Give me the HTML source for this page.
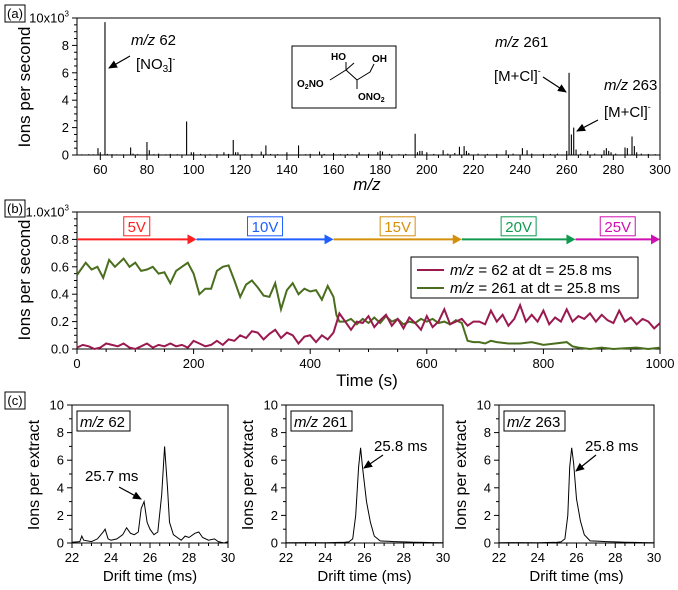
<!DOCTYPE html>
<html><head><meta charset="utf-8"><style>
html,body{margin:0;padding:0;background:#fff;}
svg{display:block;font-family:"Liberation Sans",Arial,sans-serif;}
</style></head><body>
<svg id="fig" width="678" height="590" viewBox="0 0 678 590" xmlns="http://www.w3.org/2000/svg"></svg>
<script>
// ---------- Panel (a) data ----------
const specMz = [52,55,57,59,60,62,63,65,67,70,73,74,76,80,81,83,85,88,90,93,97,99,100,103,107,110,113,115,117,118,119,122,125,129,131,133,136,140,145,148,150,154,156,160,163,166,168,171,175,179,180,181,184,188,191,195,196,197,198,200,203,207,209,212,214,216,217,218,222,226,230,234,237,241,243,245,250,253,256,260,261,262,263,264,266,269,272,276,277,278,279,281,285,286,288,289,290,292,295,298];
const specVal = [0.05,0.06,0.05,0.5,0.2,9.7,0.08,0.06,0.05,0.05,0.55,0.1,0.06,0.95,0.35,0.06,0.1,0.05,0.08,0.06,2.45,0.2,0.2,0.08,0.06,0.06,0.2,0.08,1.1,0.2,0.2,0.06,0.08,0.25,0.7,0.08,0.06,0.2,0.7,0.06,0.08,0.25,0.08,0.15,0.06,0.08,0.06,0.2,0.08,0.2,0.3,0.25,0.08,0.06,0.08,1.55,0.2,0.3,0.3,0.2,0.08,0.35,0.1,0.15,0.6,0.65,0.3,0.15,0.1,0.08,0.08,0.35,0.1,0.5,0.35,0.1,0.08,0.08,0.1,0.3,6.0,1.5,2.0,0.4,0.1,0.3,0.1,0.35,0.5,0.3,0.2,0.1,0.55,0.5,1.35,0.65,0.2,0.1,0.08,0.06];
const aXTicks = [60,80,100,120,140,160,180,200,220,240,260,280,300];
const aYTicks = [0,2,4,6,8,10];

// ---------- Panel (b) data ----------
const tGreen = [0,10,15,25,35,45,55,65,80,90,100,110,120,130,140,150,160,170,180,190,200,210,220,230,240,250,260,270,280,290,300,310,320,330,340,350,360,370,380,390,400,410,420,430,440,445,450,460,470,480,490,500,510,520,530,540,550,560,570,580,590,600,610,620,630,640,650,660,670,680,690,700,710,720,740,760,780,800,820,840,850,860,880,900,920,940,960,980,1000];
const vGreen = [0.54,0.6,0.63,0.58,0.6,0.52,0.65,0.6,0.66,0.6,0.63,0.57,0.58,0.6,0.55,0.56,0.48,0.57,0.6,0.63,0.55,0.4,0.44,0.44,0.57,0.6,0.61,0.5,0.38,0.47,0.5,0.45,0.39,0.38,0.48,0.29,0.43,0.48,0.4,0.44,0.42,0.43,0.36,0.46,0.38,0.25,0.2,0.2,0.22,0.18,0.22,0.19,0.23,0.19,0.24,0.2,0.22,0.18,0.2,0.19,0.22,0.2,0.22,0.19,0.2,0.18,0.21,0.19,0.06,0.05,0.05,0.04,0.06,0.05,0.04,0.04,0.05,0.03,0.04,0.05,0.02,0.01,0.0,0.01,0.0,0.005,0.01,0.0,0.01];
const tRed = [0,10,20,30,40,50,60,70,80,90,100,110,120,130,140,150,160,170,180,190,200,210,220,230,240,250,260,270,280,290,300,310,320,330,340,350,360,370,380,390,400,410,420,430,440,450,460,470,480,490,500,510,520,530,540,550,560,570,580,590,600,610,620,630,640,650,660,670,680,690,700,710,720,730,740,750,760,770,780,790,800,810,820,830,840,850,860,870,880,890,900,910,920,930,940,950,960,970,980,990,1000];
const vRed = [0.01,0.03,0.02,0.0,0.01,0.04,0.03,0.02,0.04,0.01,0.0,0.02,0.04,0.01,0.03,0.02,0.04,0.02,0.03,0.01,0.06,0.04,0.02,0.03,0.06,0.03,0.07,0.06,0.1,0.08,0.13,0.12,0.07,0.11,0.14,0.08,0.12,0.1,0.04,0.09,0.1,0.05,0.1,0.07,0.12,0.26,0.2,0.14,0.2,0.19,0.24,0.16,0.21,0.25,0.17,0.22,0.15,0.23,0.19,0.14,0.24,0.16,0.2,0.29,0.18,0.2,0.22,0.17,0.2,0.2,0.18,0.28,0.2,0.25,0.17,0.22,0.32,0.2,0.25,0.2,0.28,0.18,0.23,0.2,0.29,0.2,0.24,0.22,0.26,0.2,0.25,0.21,0.19,0.28,0.2,0.23,0.18,0.22,0.2,0.15,0.19];
const bXTicks = [0,200,400,600,800,1000];
const bYTicks = [0,0.2,0.4,0.6,0.8,1.0];
const voltLabels = ["5V","10V","15V","20V","25V"];
const voltStart = [0,205,440,660,855];
const voltEnd = [205,440,660,855,1000];
const voltColors = ["#ff2020","#1f5fff","#d4900a","#109a50","#d010b0"];

// ---------- Panel (c) data ----------
const dt62 = [22,22.4,22.5,22.6,23,23.3,23.6,23.7,23.85,24,24.3,24.6,24.8,25,25.2,25.4,25.55,25.7,25.85,26,26.2,26.4,26.6,26.75,26.9,27,27.2,27.4,27.6,27.8,28,28.3,28.5,28.7,29,29.3,29.5,29.8,30];
const v62 = [0.05,0.1,0.5,0.2,0.1,0.3,0.8,1.0,0.3,0.2,0.3,0.6,1.1,0.7,0.6,0.8,2.5,3.0,1.5,1.0,0.6,0.8,3.5,7.0,4.0,1.5,0.6,0.4,0.2,0.5,0.4,0.7,0.8,0.4,0.2,0.3,0.1,0.0,0.1];
const dt261 = [22,23,24,25,25.2,25.4,25.55,25.7,25.8,25.9,26.1,26.3,26.5,26.8,27.2,27.5,28,28.5,29,29.5,30];
const v261 = [0.02,0.03,0.02,0.05,0.08,0.3,2.0,5.5,6.9,5.5,3.0,1.5,0.5,0.15,0.12,0.1,0.08,0.06,0.04,0.03,0.02];
const dt263 = [22,23,24,25,25.2,25.4,25.55,25.65,25.75,25.85,26.0,26.2,26.4,26.7,27.2,27.5,28,28.5,29,29.5,30];
const v263 = [0.02,0.03,0.02,0.05,0.08,0.3,2.0,5.5,6.9,5.8,3.2,1.6,0.6,0.15,0.12,0.1,0.08,0.06,0.04,0.03,0.02];
const cXTicks = [22,24,26,28,30];
const cYTicks = [0,2,4,6,8,10];

const NS = "http://www.w3.org/2000/svg";
const svg = document.getElementById("fig");
function mk(tag, attrs, parent){ const e=document.createElementNS(NS,tag); for(const k in attrs) e.setAttribute(k,attrs[k]); (parent||svg).appendChild(e); return e; }
function lin(d0,d1,r0,r1){ return v => r0 + (v-d0)/(d1-d0)*(r1-r0); }
function txt(s,x,y,size,anchor,parent){ const t=mk("text",{x:x,y:y,"font-size":size,"text-anchor":anchor||"middle",fill:"#000"},parent); t.innerHTML=s; return t; }

const defs = mk("defs",{});
const mkr = mk("marker",{id:"ah",markerWidth:9,markerHeight:8,refX:8,refY:4,orient:"auto",markerUnits:"userSpaceOnUse"},defs);
mk("path",{d:"M0,0 L9,4 L0,8 Z",fill:"#000"},mkr);

function panelLabel(s,x,y){ const g=mk("g",{}); 
  
  mk("rect",{x:x,y:y,width:20,height:17,fill:"none",stroke:"#000","stroke-width":1},g); txt("("+s+")",x+10,y+13,13,"middle",g); }

function axes(name,L,R,T,B,sx,sy,xt,yt,xminor,yminor,xfmt,yfmt,fs){
  const g=mk("g",{});
  
  
  mk("rect",{x:L,y:T,width:R-L,height:B-T,fill:"none",stroke:"#000","stroke-width":1},g);
  xt.forEach((v,i)=>{ const x=sx(v); mk("line",{x1:x,x2:x,y1:B,y2:B+5,stroke:"#000"},g); const t=txt(xfmt(v),x,B+19,fs,"middle",g);
    
    
    if(i<xt.length-1){ for(let k=1;k<xminor;k++){ const xm=sx(v+(xt[i+1]-v)*k/xminor); mk("line",{x1:xm,x2:xm,y1:B,y2:B+3,stroke:"#000"},g);} } });
  yt.forEach((v,i)=>{ const y=sy(v); mk("line",{x1:L-5,x2:L,y1:y,y2:y,stroke:"#000"},g); const t=txt(yfmt(v),L-8,y+4.5,fs,"end",g);
    
    
    if(i<yt.length-1){ for(let k=1;k<yminor;k++){ const ym=sy(v+(yt[i+1]-v)*k/yminor); mk("line",{x1:L-3,x2:L,y1:ym,y2:ym,stroke:"#000"},g);} } });
  return g;
}
function vtitle(s,x,y,size){ const t=mk("text",{x:x,y:y,"font-size":size,"text-anchor":"middle",transform:"rotate(-90 "+x+" "+y+")"}); t.textContent=s; return t; }
function arrow(x1,y1,x2,y2){ const l=mk("line",{x1:x1,y1:y1,x2:x2,y2:y2,stroke:"#000","stroke-width":1.2,"marker-end":"url(#ah)"});
  
   return l; }

// ===== Panel (a) =====
panelLabel("a",5,5);
const aL=77,aR=660,aT=18,aB=155;
const ax=lin(50,300,aL,aR), ay=lin(0,10,aB,aT);
axes("spectrum",aL,aR,aT,aB,ax,ay,aXTicks,aYTicks,4,4,v=>String(v),v=>v===10?"10x10<tspan font-size='8' dy='-6'>3</tspan>":String(v),13);
specMz.forEach((m,i)=>{ const l=mk("line",{x1:ax(m),x2:ax(m),y1:aB,y2:ay(specVal[i]),stroke:"#000","stroke-width":1.1});
  
   });
let t=vtitle("Ions per second",30,87,17);  
t=txt("<tspan font-style='italic'>m/z</tspan>",367,190,17);  
t=txt("<tspan font-style='italic'>m/z</tspan> 62",131,45,15,"start"); 
t=txt("[NO<tspan font-size='10' dy='3'>3</tspan><tspan dy='-3'>]</tspan><tspan font-size='9' dy='-7'>-</tspan>",136,69,15,"start"); 
arrow(130,56,109,68);
t=txt("<tspan font-style='italic'>m/z</tspan> 261",495,47,15,"start"); 
t=txt("[M+Cl]<tspan font-size='9' dy='-7'>-</tspan>",494,81,15,"start"); 
arrow(543,77,566,92);
t=txt("<tspan font-style='italic'>m/z</tspan> 263",604,90,15,"start"); 
t=txt("[M+Cl]<tspan font-size='9' dy='-7'>-</tspan>",604,117,15,"start"); 
arrow(598,120,577,131);
const sg=mk("g",{});  
mk("rect",{x:292,y:46,width:104,height:62,fill:"#fff",stroke:"#000"},sg);
mk("polyline",{points:"330,80 346,70 357,80 357,89",fill:"none",stroke:"#000"},sg);
mk("line",{x1:346,y1:70,x2:346,y2:62,stroke:"#000"},sg);
mk("line",{x1:346,y1:70,x2:354,y2:63,stroke:"#000"},sg);
mk("polyline",{points:"357,80 370,72 374,64",fill:"none",stroke:"#000"},sg);
txt("O<tspan font-size='7' dy='2'>2</tspan><tspan dy='-2'>NO</tspan>",297,99/1.14,10,"start",sg).setAttribute("font-weight","bold");
txt("HO",331,60,10,"start",sg).setAttribute("font-weight","bold");
txt("OH",372,62,10,"start",sg).setAttribute("font-weight","bold");
txt("ONO<tspan font-size='7' dy='2'>2</tspan>",358,100,10,"start",sg).setAttribute("font-weight","bold");

// ===== Panel (b) =====
panelLabel("b",5,200);
const bL=77,bR=660,bT=212,bB=349;
const bx=lin(0,1000,bL,bR), by=lin(0,1,bB,bT);
axes("timeseries",bL,bR,bT,bB,bx,by,bXTicks,bYTicks,4,4,v=>String(v),v=>v===1?"1.0x10<tspan font-size='8' dy='-6'>3</tspan>":v.toFixed(1),13);
t=vtitle("Ions per second",30,280,17);  
t=txt("Time (s)",367,386,17);  
voltLabels.forEach((s,i)=>{ const g=mk("g",{});
  
  
  const x1=bx(voltStart[i]), x2=bx(voltEnd[i]), y=by(0.8), c=voltColors[i];
  mk("line",{x1:x1,x2:x2-8,y1:y,y2:y,stroke:c,"stroke-width":2},g);
  mk("path",{d:`M${x2-9},${y-5} L${x2},${y} L${x2-9},${y+5} Z`,fill:c},g);
  const cx=(x1+x2)/2, w=s.length*9+8;
  mk("rect",{x:cx-w/2,y:by(0.965),width:w,height:19,fill:"#fff",stroke:c},g);
  const tt=txt(s,cx,by(0.965)+15,15,"middle",g); tt.setAttribute("fill",c); });
function pathFrom(xs,ys,sx,sy){ return xs.map((v,i)=>(i?"L":"M")+sx(v).toFixed(1)+","+sy(ys[i]).toFixed(1)).join(" "); }
let p=mk("path",{d:pathFrom(tGreen,vGreen,bx,by),fill:"none",stroke:"#4a6e1e","stroke-width":2});
 
p=mk("path",{d:pathFrom(tRed,vRed,bx,by),fill:"none",stroke:"#9a1a50","stroke-width":2});
 
const lg=mk("g",{});  
mk("rect",{x:411,y:257,width:227,height:41,fill:"#fff",stroke:"#000"},lg);
mk("line",{x1:417,x2:444,y1:270,y2:270,stroke:"#9a1a50","stroke-width":2},lg);
txt("<tspan font-style='italic'>m/z</tspan> = 62 at dt = 25.8 ms",450,275,15,"start",lg);
mk("line",{x1:417,x2:444,y1:288,y2:288,stroke:"#4a6e1e","stroke-width":2},lg);
txt("<tspan font-style='italic'>m/z</tspan> = 261 at dt = 25.8 ms",450,293,15,"start",lg);

// ===== Panel (c) =====
panelLabel("c",5,392);
const cT=405,cB=543;
const subs=[{L:72,R:228,xs:dt62,ys:v62,lab:"62",ann:"25.7 ms",tx:85,ty:481,a:[119,487,141,499]},
            {L:286,R:443,xs:dt261,ys:v261,lab:"261",ann:"25.8 ms",tx:374,ty:451,a:[383,455,364,468]},
            {L:499,R:654,xs:dt263,ys:v263,lab:"263",ann:"25.8 ms",tx:585,ty:451,a:[596,455,576,471]}];
subs.forEach(s=>{
  const sx=lin(22,30,s.L,s.R), sy=lin(0,10,cB,cT);
  axes("drift-mz"+s.lab,s.L,s.R,cT,cB,sx,sy,cXTicks,cYTicks,4,2,v=>String(v),v=>String(v),13);
  const pp=mk("path",{d:pathFrom(s.xs,s.ys,sx,sy),fill:"none",stroke:"#000","stroke-width":1});
  
  
  const bg=mk("g",{});  
  const w=s.lab.length>2?61:53;
  mk("rect",{x:s.L+5,y:411,width:w,height:20,fill:"#fff",stroke:"#000"},bg);
  txt("<tspan font-style='italic'>m/z</tspan> "+s.lab,s.L+8,427,15,"start",bg);
  const at=txt(s.ann,s.tx,s.ty,15,"start");  
  arrow(...s.a);
  const yt=vtitle("Ions per extract",s.L-33,475,16);  
  const xt=txt("Drift time (ms)",(s.L+s.R)/2,581,15);  
});
</script>
</body></html>
